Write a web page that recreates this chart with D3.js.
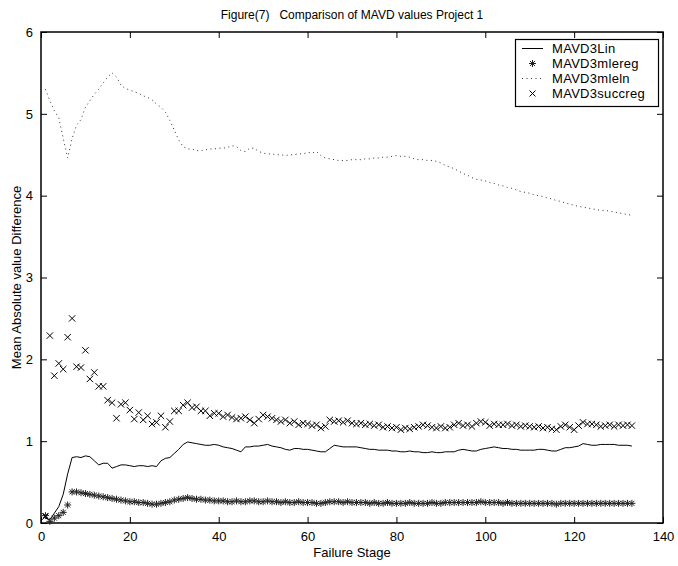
<!DOCTYPE html>
<html>
<head>
<meta charset="utf-8">
<script src="https://cdn.jsdelivr.net/npm/d3@7"></script>
<style>
  html, body { margin: 0; padding: 0; background: #fff; }
  text { font-family: "Liberation Sans", Arial, Helvetica, sans-serif; fill: #000; }
</style>
</head>
<body>
<div id="chart"></div>
<script>
// failure stage 1..133
const stages = d3.range(1, 134)

const xTicks = [0, 20, 40, 60, 80, 100, 120, 140]
const yTicks = [0, 1, 2, 3, 4, 5, 6]

// MAVD3Lin (solid line)
const lin = [
  0.06, 0.04, 0.12, 0.20, 0.35, 0.60, 0.80, 0.81, 0.80, 0.82,
  0.81, 0.76, 0.71, 0.73, 0.73, 0.67, 0.69, 0.71, 0.71, 0.70,
  0.69, 0.70, 0.70, 0.69, 0.70, 0.69, 0.76, 0.79, 0.80, 0.85,
  0.90, 0.96, 0.99, 0.98, 0.97, 0.96, 0.95, 0.95, 0.96, 0.95,
  0.93, 0.92, 0.91, 0.89, 0.87, 0.93, 0.93, 0.94, 0.94, 0.95,
  0.96, 0.94, 0.93, 0.92, 0.90, 0.89, 0.91, 0.91, 0.90, 0.90,
  0.89, 0.88, 0.87, 0.87, 0.91, 0.95, 0.94, 0.93, 0.93, 0.93,
  0.93, 0.92, 0.91, 0.90, 0.90, 0.89, 0.89, 0.89, 0.88, 0.88,
  0.87, 0.87, 0.88, 0.87, 0.87, 0.86, 0.86, 0.87, 0.86, 0.86,
  0.87, 0.87, 0.87, 0.89, 0.90, 0.89, 0.88, 0.88, 0.90, 0.91,
  0.92, 0.93, 0.92, 0.91, 0.91, 0.90, 0.90, 0.89, 0.89, 0.89,
  0.89, 0.90, 0.90, 0.89, 0.88, 0.88, 0.90, 0.92, 0.92, 0.93,
  0.94, 0.97, 0.96, 0.95, 0.95, 0.96, 0.96, 0.96, 0.96, 0.95,
  0.95, 0.95, 0.94
]

// MAVD3mlereg (* markers)
const mlereg = [
  0.09, 0.02, 0.06, 0.09, 0.13, 0.22, 0.38, 0.38, 0.37, 0.36,
  0.35, 0.34, 0.33, 0.32, 0.31, 0.30, 0.29, 0.28, 0.27, 0.26,
  0.26, 0.25, 0.25, 0.24, 0.23, 0.23, 0.24, 0.25, 0.26, 0.28,
  0.29, 0.30, 0.31, 0.30, 0.29, 0.29, 0.28, 0.28, 0.27, 0.27,
  0.27, 0.26, 0.26, 0.27, 0.26, 0.26, 0.27, 0.27, 0.26, 0.26,
  0.27, 0.26, 0.26, 0.25, 0.26, 0.25, 0.25, 0.26, 0.25, 0.25,
  0.25, 0.24, 0.24, 0.25, 0.26, 0.26, 0.26, 0.25, 0.26, 0.25,
  0.25, 0.25, 0.25, 0.24, 0.25, 0.24, 0.24, 0.25, 0.24, 0.24,
  0.24, 0.24, 0.25, 0.24, 0.24, 0.24, 0.24, 0.25, 0.24, 0.24,
  0.25, 0.25, 0.25, 0.25, 0.25, 0.25, 0.25, 0.25, 0.26, 0.25,
  0.25, 0.25, 0.25, 0.24, 0.25, 0.24, 0.24, 0.24, 0.24, 0.24,
  0.24, 0.24, 0.24, 0.24, 0.24, 0.23, 0.24, 0.24, 0.24, 0.24,
  0.24, 0.24, 0.24, 0.24, 0.24, 0.24, 0.24, 0.24, 0.24, 0.24,
  0.24, 0.24, 0.24
]

// MAVD3mleln (dotted line)
const mleln = [
  5.30, 5.16, 5.04, 4.95, 4.70, 4.46, 4.70, 4.86, 4.93, 5.08,
  5.16, 5.24, 5.30, 5.38, 5.45, 5.50, 5.45, 5.35, 5.31, 5.29,
  5.27, 5.25, 5.22, 5.20, 5.17, 5.12, 5.08, 5.02, 4.92, 4.80,
  4.68, 4.60, 4.57, 4.57, 4.55, 4.55, 4.56, 4.57, 4.57, 4.58,
  4.58, 4.59, 4.61, 4.60, 4.55, 4.54, 4.58, 4.58, 4.54, 4.52,
  4.51, 4.51, 4.50, 4.50, 4.49, 4.50, 4.50, 4.51, 4.51, 4.53,
  4.52, 4.54, 4.49, 4.46, 4.45, 4.44, 4.43, 4.43, 4.43, 4.44,
  4.44, 4.44, 4.45, 4.45, 4.46, 4.46, 4.47, 4.47, 4.48, 4.49,
  4.48, 4.48, 4.47, 4.45, 4.44, 4.44, 4.43, 4.43, 4.42, 4.40,
  4.37, 4.35, 4.33, 4.30, 4.27, 4.25, 4.22, 4.20, 4.19, 4.18,
  4.16, 4.15, 4.13, 4.12, 4.10, 4.09, 4.07, 4.05, 4.04, 4.03,
  4.01, 4.00, 3.99, 3.97, 3.96, 3.94, 3.93, 3.91, 3.90, 3.88,
  3.87, 3.86, 3.85, 3.84, 3.83, 3.82, 3.82, 3.81, 3.80, 3.79,
  3.78, 3.77, 3.76
]

// MAVD3succreg (x markers)
const succreg = [
  0.08, 2.29, 1.80, 1.95, 1.88, 2.27, 2.50, 1.91, 1.90, 2.11,
  1.76, 1.84, 1.67, 1.67, 1.50, 1.47, 1.28, 1.45, 1.47, 1.38,
  1.27, 1.35, 1.26, 1.31, 1.21, 1.23, 1.31, 1.17, 1.24, 1.37,
  1.37, 1.44, 1.47, 1.41, 1.42, 1.37, 1.37, 1.31, 1.34, 1.34,
  1.30, 1.32, 1.29, 1.27, 1.28, 1.30, 1.26, 1.22, 1.27, 1.32,
  1.30, 1.28, 1.26, 1.24, 1.26, 1.22, 1.24, 1.20, 1.22, 1.21,
  1.19, 1.20, 1.16, 1.18, 1.26, 1.24, 1.25, 1.23, 1.25, 1.22,
  1.21, 1.22, 1.20, 1.21, 1.19, 1.20, 1.17, 1.18, 1.16, 1.17,
  1.14, 1.16, 1.15, 1.17, 1.18, 1.20, 1.19, 1.17, 1.16, 1.18,
  1.16, 1.17, 1.20, 1.22, 1.19, 1.20, 1.18, 1.22, 1.24, 1.23,
  1.19, 1.21, 1.20, 1.20, 1.21, 1.19, 1.20, 1.18, 1.19, 1.18,
  1.17, 1.18, 1.16, 1.17, 1.15, 1.14, 1.18, 1.20, 1.17, 1.14,
  1.19, 1.23, 1.21, 1.21, 1.20, 1.18, 1.19, 1.20, 1.18, 1.20,
  1.19, 1.20, 1.19
]

const seriesNames = ['MAVD3Lin', 'MAVD3mlereg', 'MAVD3mleln', 'MAVD3succreg']

const width = 678, height = 566
const margin = { top: 32, right: 15, bottom: 43, left: 41 }

const svg = d3.select('#chart').append('svg')
  .attr('width', width)
  .attr('height', height)

const x = d3.scaleLinear().domain([0, 140]).range([margin.left, width - margin.right])
const y = d3.scaleLinear().domain([0, 6]).range([height - margin.bottom, margin.top])

// paths for MATLAB-style markers
const starPath = (cx, cy, r) => {
  const d = r * 0.72
  return `M${cx - r},${cy}H${cx + r}M${cx},${cy - r}V${cy + r}` +
    `M${cx - d},${cy - d}L${cx + d},${cy + d}M${cx - d},${cy + d}L${cx + d},${cy - d}`
}
const crossPath = (cx, cy, r) =>
  `M${cx - r},${cy - r}L${cx + r},${cy + r}M${cx - r},${cy + r}L${cx + r},${cy - r}`

// axes (ticks inward on all four sides)
const fmt = d3.format('d')
const axB = svg.append('g')
  .attr('transform', `translate(0,${y(0)})`)
  .call(d3.axisBottom(x).tickValues(xTicks).tickFormat(fmt).tickSizeInner(-6).tickSizeOuter(0).tickPadding(9))
const axT = svg.append('g')
  .attr('transform', `translate(0,${y(6)})`)
  .call(d3.axisTop(x).tickValues(xTicks).tickFormat('').tickSizeInner(-6).tickSizeOuter(0))
const axL = svg.append('g')
  .attr('transform', `translate(${x(0)},0)`)
  .call(d3.axisLeft(y).tickValues(yTicks).tickFormat(fmt).tickSizeInner(-6).tickSizeOuter(0).tickPadding(8))
const axR = svg.append('g')
  .attr('transform', `translate(${x(140)},0)`)
  .call(d3.axisRight(y).tickValues(yTicks).tickFormat('').tickSizeInner(-6).tickSizeOuter(0))

;[axB, axT, axL, axR].forEach(g => {
  g.select('.domain').remove()
  g.selectAll('line').attr('stroke', '#000').attr('stroke-width', 1)
  g.selectAll('text').style('font-size', '13px').attr('fill', '#000')
})

svg.append('rect')
  .attr('x', x(0)).attr('y', y(6))
  .attr('width', x(140) - x(0)).attr('height', y(0) - y(6))
  .attr('fill', 'none').attr('stroke', '#000').attr('stroke-width', 1.5)

const plot = svg.append('g')

const line = d3.line()
  .x((d, i) => x(stages[i]))
  .y(d => y(d))

// solid
plot.append('path')
  .datum(lin)
  .attr('d', line)
  .attr('fill', 'none')
  .attr('stroke', '#000')
  .attr('stroke-width', 1)

// dotted
plot.append('path')
  .datum(mleln)
  .attr('d', line)
  .attr('fill', 'none')
  .attr('stroke', '#333')
  .attr('stroke-width', 1)
  .attr('stroke-dasharray', '1 3.5')

// * markers
plot.append('path')
  .attr('d', mlereg.map((v, i) => starPath(x(stages[i]), y(v), 3.5)).join(''))
  .attr('fill', 'none')
  .attr('stroke', '#222')
  .attr('stroke-width', 1)

// x markers
plot.append('path')
  .attr('d', succreg.map((v, i) => crossPath(x(stages[i]), y(v), 3.2)).join(''))
  .attr('fill', 'none')
  .attr('stroke', '#000')
  .attr('stroke-width', 1)

// title and axis labels
svg.append('text')
  .attr('x', (x(0) + x(140)) / 2)
  .attr('y', 19)
  .attr('text-anchor', 'middle')
  .style('font-size', '12px')
  .style('white-space', 'pre')
  .text('Figure(7)   Comparison of MAVD values Project 1')

svg.append('text')
  .attr('x', (x(0) + x(140)) / 2)
  .attr('y', 557)
  .attr('text-anchor', 'middle')
  .style('font-size', '13px')
  .text('Failure Stage')

svg.append('text')
  .attr('transform', `translate(21,${(y(0) + y(6)) / 2}) rotate(-90)`)
  .attr('text-anchor', 'middle')
  .style('font-size', '13px')
  .text('Mean Absolute value Difference')

// legend
const lg = svg.append('g')
lg.append('rect')
  .attr('x', 515.5).attr('y', 39.5)
  .attr('width', 143).attr('height', 67)
  .attr('fill', '#fff').attr('stroke', '#000').attr('stroke-width', 1.2)

const rowY = [48.5, 63.5, 78.5, 93.5]
seriesNames.forEach((name, i) => {
  const ry = rowY[i]
  if (i === 0) {
    lg.append('line').attr('x1', 522).attr('x2', 543).attr('y1', ry).attr('y2', ry)
      .attr('stroke', '#000').attr('stroke-width', 1)
  } else if (i === 1) {
    lg.append('path').attr('d', starPath(532.5, ry, 3.5))
      .attr('stroke', '#222').attr('fill', 'none').attr('stroke-width', 1)
  } else if (i === 2) {
    lg.append('line').attr('x1', 522).attr('x2', 543).attr('y1', ry).attr('y2', ry)
      .attr('stroke', '#333').attr('stroke-width', 1).attr('stroke-dasharray', '1 3.5')
  } else {
    lg.append('path').attr('d', crossPath(532.5, ry, 3))
      .attr('stroke', '#000').attr('fill', 'none').attr('stroke-width', 1)
  }
  lg.append('text')
    .attr('x', 552).attr('y', ry)
    .attr('dy', '0.35em')
    .style('font-size', '13px')
    .style('letter-spacing', '0.3px')
    .text(name)
})
</script>
</body>
</html>
